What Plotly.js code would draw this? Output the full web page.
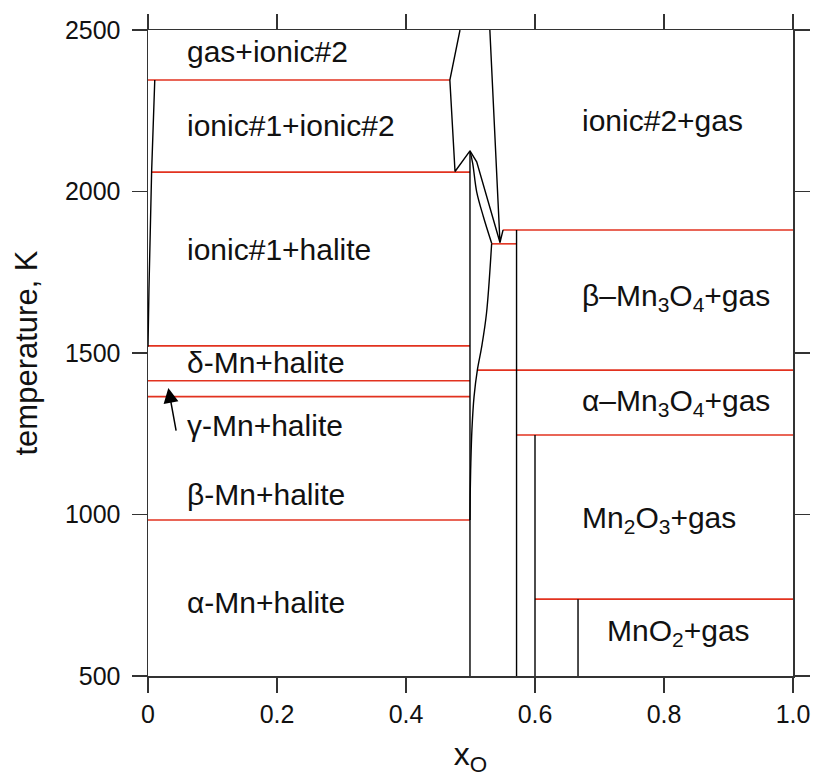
<!DOCTYPE html>
<html>
<head>
<meta charset="utf-8">
<script src="https://cdn.plot.ly/plotly-3.0.1.min.js"></script>
<style>html,body{margin:0;padding:0;background:#fff;}#chart{width:813px;height:777px;}</style>
</head>
<body>
<div id="chart"></div>
<script>
// Invariant (red) isotherms
const isoT  = [2345, 2060, 1522, 1414, 1365, 983, 1881, 1838, 1447, 1246, 738];
const isoX0 = [0.0, 0.0056, 0.0, 0.0, 0.0, 0.0, 0.5505, 0.5328, 0.5106, 0.5714, 0.6];
const isoX1 = [0.468, 0.4992, 0.4992, 0.4992, 0.4992, 0.4992, 1.0, 0.5714, 1.0, 1.0, 1.0];

// Phase boundary curves (black)
const mnLiqX = [0.0105, 0.0056, 0.0015, 0.0];
const mnLiqT = [2345, 2060, 1700, 1519];
const ionic2LiqX = [0.4837, 0.468, 0.476, 0.4992];
const ionic2LiqT = [2500, 2345, 2062, 2126];
const outerLiqX = [0.4992, 0.5096, 0.5457];
const outerLiqT = [2126, 2092, 1842];
const haliteSolidusX = [0.4992, 0.5034, 0.5096, 0.520, 0.5328];
const haliteSolidusT = [2126, 2087, 1999, 1922, 1840];
const haliteSolvusX = [0.5328, 0.5248, 0.5173, 0.5106, 0.5055, 0.5022, 0.5005, 0.4995, 0.4992];
const haliteSolvusT = [1840, 1623, 1519, 1447, 1365, 1262, 1158, 1060, 983];
const gasBoundX = [0.530, 0.5457, 0.5505];
const gasBoundT = [2500, 1842, 1881];

// Stoichiometric compounds (vertical lines)
const compX   = [0.4992, 0.5714, 0.6, 0.6667];
const compTop = [2126, 1881, 1246, 738];
const tBottom = 500;

// Region labels
const labelText = ['gas+ionic#2', 'ionic#1+ionic#2', 'ionic#1+halite', 'δ-Mn+halite', 'γ-Mn+halite',
  'β-Mn+halite', 'α-Mn+halite', 'ionic#2+gas', 'β–Mn<sub>3</sub>O<sub>4</sub>+gas',
  'α–Mn<sub>3</sub>O<sub>4</sub>+gas', 'Mn<sub>2</sub>O<sub>3</sub>+gas', 'MnO<sub>2</sub>+gas'];
const labelX = [0.058, 0.058, 0.058, 0.058, 0.058, 0.058, 0.058, 0.669, 0.669, 0.669, 0.669, 0.709];
const labelT = [2432, 2203, 1819, 1472, 1277, 1063, 729, 2221, 1673, 1348, 983, 636];

// Arrow (gamma-Mn label pointer)
const arrowTail = [0.044, 1255];
const arrowHead = [0.0315, 1392];

const xTicks = [0, 0.2, 0.4, 0.6, 0.8, 1.0];
const xTickText = ['0', '0.2', '0.4', '0.6', '0.8', '1.0'];
const yTicks = [500, 1000, 1500, 2000, 2500];

const RED = '#e2321f';
const traces = [];

// red isotherms in one trace
const rx = [], ry = [];
for (let i = 0; i < isoT.length; i++) {
  rx.push(isoX0[i], isoX1[i], null);
  ry.push(isoT[i], isoT[i], null);
}
traces.push({x: rx, y: ry, mode: 'lines', line: {color: RED, width: 1.6}, hoverinfo: 'skip'});

function blk(x, y, shape) {
  traces.push({x: x, y: y, mode: 'lines', line: {color: '#000', width: 1.4, shape: shape || 'linear'}, hoverinfo: 'skip'});
}
blk(mnLiqX, mnLiqT);
blk(ionic2LiqX, ionic2LiqT);
blk(outerLiqX, outerLiqT);
blk(haliteSolidusX, haliteSolidusT, 'spline');
blk(haliteSolvusX, haliteSolvusT, 'spline');
blk(gasBoundX, gasBoundT);
const vx = [], vy = [];
for (let i = 0; i < compX.length; i++) {
  vx.push(compX[i], compX[i], null);
  vy.push(tBottom, compTop[i], null);
}
blk(vx, vy);

const FONT = 'Liberation Sans, Arial, Helvetica, sans-serif';
const annotations = labelText.map((t, i) => ({
  x: labelX[i], y: labelT[i], xref: 'x', yref: 'y', text: t, showarrow: false,
  xanchor: 'left', yanchor: 'middle', font: {family: FONT, size: 30, color: '#111'}
}));
annotations.push({
  x: arrowHead[0], y: arrowHead[1], ax: arrowTail[0], ay: arrowTail[1],
  axref: 'x', ayref: 'y', xref: 'x', yref: 'y', text: '', showarrow: true,
  arrowhead: 2, arrowsize: 2, arrowwidth: 1.5, arrowcolor: '#000'
});

const layout = {
  width: 813, height: 777,
  margin: {l: 148, r: 20, t: 30, b: 101},
  paper_bgcolor: '#fff', plot_bgcolor: '#fff',
  showlegend: false,
  font: {family: FONT, color: '#111'},
  xaxis: {
    range: [0, 1], tickvals: xTicks, ticktext: xTickText,
    showgrid: false, zeroline: false, showline: true, mirror: 'ticks',
    linecolor: '#333', linewidth: 1.5, ticks: 'outside', ticklen: 15, tickwidth: 1.5, tickcolor: '#333',
    tickfont: {family: FONT, size: 25, color: '#111'},
    title: {text: 'x<sub>O</sub>', font: {family: FONT, size: 32, color: '#111'}, standoff: 18}
  },
  yaxis: {
    range: [500, 2500], tickvals: yTicks,
    showgrid: false, zeroline: false, showline: true, mirror: 'ticks',
    linecolor: '#333', linewidth: 1.5, ticks: 'outside', ticklen: 15, tickwidth: 1.5, tickcolor: '#333',
    ticklabelstandoff: 6,
    tickfont: {family: FONT, size: 25, color: '#111'},
    title: {text: 'temperature, K', font: {family: FONT, size: 31, color: '#111'}, standoff: 18}
  },
  annotations: annotations
};

Plotly.newPlot('chart', traces, layout, {displayModeBar: false, staticPlot: true});
</script>
</body>
</html>
